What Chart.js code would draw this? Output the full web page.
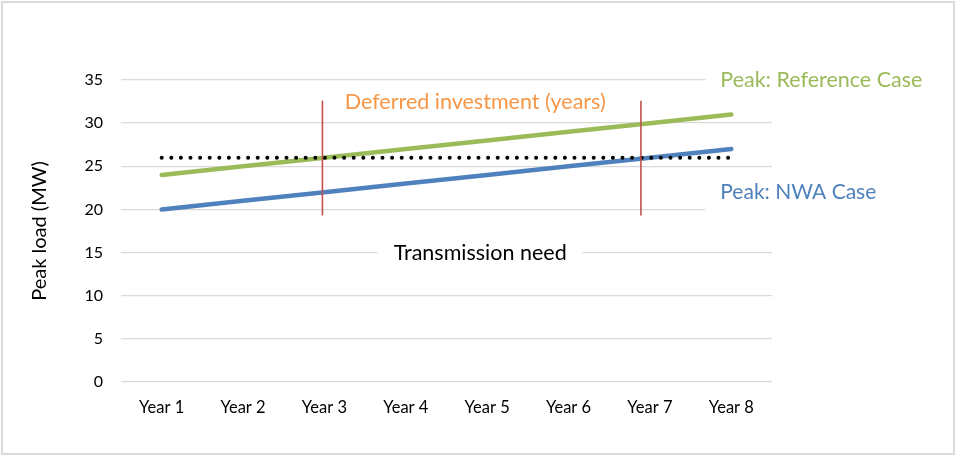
<!DOCTYPE html>
<html>
<head>
<meta charset="utf-8">
<script src="https://cdn.jsdelivr.net/npm/chart.js@4.4.1/dist/chart.umd.min.js"></script>
<style>
  html, body { margin: 0; padding: 0; background: #fff; }
  #wrap { position: relative; width: 956px; height: 456px; }
  #frame { position: absolute; left: 1px; top: 1px; width: 950px; height: 450px; border: 2px solid #d9d9d9; pointer-events: none; }
</style>
</head>
<body>
<div id="wrap">
  <canvas id="peakChart" width="956" height="456"></canvas>
  <div id="frame"></div>
</div>
<script>
// chart data
const years = ['Year 1', 'Year 2', 'Year 3', 'Year 4', 'Year 5', 'Year 6', 'Year 7', 'Year 8'];
const referenceCase = [24, 25, 26, 27, 28, 29, 30, 31];
const nwaCase = [20, 21, 22, 23, 24, 25, 26, 27];
const transmissionNeed = [26, 26, 26, 26, 26, 26, 26, 26];
const deferralYears = ['Year 3', 'Year 7'];
const deferralSpan = [19.3, 32.6];
const yTicks = [0, 5, 10, 15, 20, 25, 30, 35];

(function() {
    'use strict';

    const FONT = 'Lato, "Open Sans", sans-serif';

    // red markers + text labels, placed through the chart scales
    const overlayPlugin = {
        id: 'overlay',
        afterDatasetsDraw: function(chart) {
            const ctx = chart.ctx;
            const xs = chart.scales.x;
            const ys = chart.scales.y;
            const shifts = chart.options.plugins.overlay.markerShift;

            ctx.save();
            ctx.strokeStyle = '#c0504d';
            ctx.lineWidth = 1.6;
            deferralYears.forEach(function(yr, i) {
                const x = xs.getPixelForValue(years.indexOf(yr)) + shifts[i];
                ctx.beginPath();
                ctx.moveTo(x, ys.getPixelForValue(deferralSpan[1]));
                ctx.lineTo(x, ys.getPixelForValue(deferralSpan[0]));
                ctx.stroke();
            });
            ctx.restore();
        },
        afterDraw: function(chart) {
            const ctx = chart.ctx;
            const xs = chart.scales.x;
            const ys = chart.scales.y;
            const labels = chart.options.plugins.overlay.labels;

            ctx.save();
            ctx.textBaseline = 'middle';
            labels.forEach(function(l) {
                ctx.font = l.size + 'px ' + FONT;
                const w = ctx.measureText(l.text).width;
                const x = xs.getPixelForValue(l.at) + (l.dx || 0);
                const y = ys.getPixelForValue(l.value);
                const left = l.align === 'left' ? x : x - w / 2;
                if (l.box) {
                    ctx.fillStyle = '#fff';
                    ctx.fillRect(left - l.box[0], y - l.box[1], w + l.box[0] * 2, l.box[1] * 2);
                }
                ctx.fillStyle = l.color;
                ctx.textAlign = 'left';
                ctx.fillText(l.text, left, y);
            });
            ctx.restore();
        }
    };

    const ctx = document.getElementById('peakChart');
    new Chart(ctx, {
        type: 'line',
        data: {
            labels: years,
            datasets: [{
                label: 'Transmission need',
                data: transmissionNeed,
                borderColor: '#000',
                borderWidth: 4,
                borderDash: [0, 9.6],
                borderCapStyle: 'round',
                pointRadius: 0
            }, {
                label: 'Peak: NWA Case',
                data: nwaCase,
                borderColor: '#4f81bd',
                borderWidth: 4.5,
                borderCapStyle: 'round',
                pointRadius: 0
            }, {
                label: 'Peak: Reference Case',
                data: referenceCase,
                borderColor: '#9bbb59',
                borderWidth: 4.5,
                borderCapStyle: 'round',
                pointRadius: 0
            }]
        },
        options: {
            responsive: false,
            animation: false,
            layout: { padding: { top: 80, right: 184, bottom: 0, left: 0 } },
            plugins: {
                legend: { display: false },
                tooltip: { enabled: false },
                overlay: {
                    markerShift: [-2, -9],
                    labels: [
                        { text: 'Deferred investment (years)', at: 4, dx: -12, value: 32.4, size: 21.5, color: '#f79646' },
                        { text: 'Transmission need', at: 4, dx: -7, value: 15, size: 21.5, color: '#000', box: [16, 13] },
                        { text: 'Peak: Reference Case', at: 7, dx: -11, value: 35, size: 21.5, color: '#9bbb59', align: 'left', box: [15, 18] },
                        { text: 'Peak: NWA Case', at: 7, dx: -11, value: 22, size: 21, color: '#4f81bd', align: 'left', box: [15, 22] }
                    ]
                }
            },
            scales: {
                x: {
                    offset: true,
                    grid: { display: false, drawTicks: false },
                    border: { display: false },
                    ticks: { color: '#000', padding: 16, font: { family: FONT, size: 16.5 } },
                    afterFit: function(scale) { scale.height = 74; }
                },
                y: {
                    min: 0,
                    max: 35,
                    afterBuildTicks: function(scale) {
                        scale.ticks = yTicks.map(function(v) { return { value: v }; });
                    },
                    grid: { color: '#d9d9d9', lineWidth: 1.3, drawTicks: false },
                    border: { display: false },
                    ticks: { color: '#000', padding: 18, font: { family: FONT, size: 16 } },
                    title: {
                        display: true,
                        text: 'Peak load (MW)',
                        color: '#000',
                        font: { family: FONT, size: 20 },
                        padding: { top: 28, bottom: 0 }
                    },
                    afterFit: function(scale) { scale.width = 121; }
                }
            }
        },
        plugins: [overlayPlugin]
    });
})();
</script>
</body>
</html>
